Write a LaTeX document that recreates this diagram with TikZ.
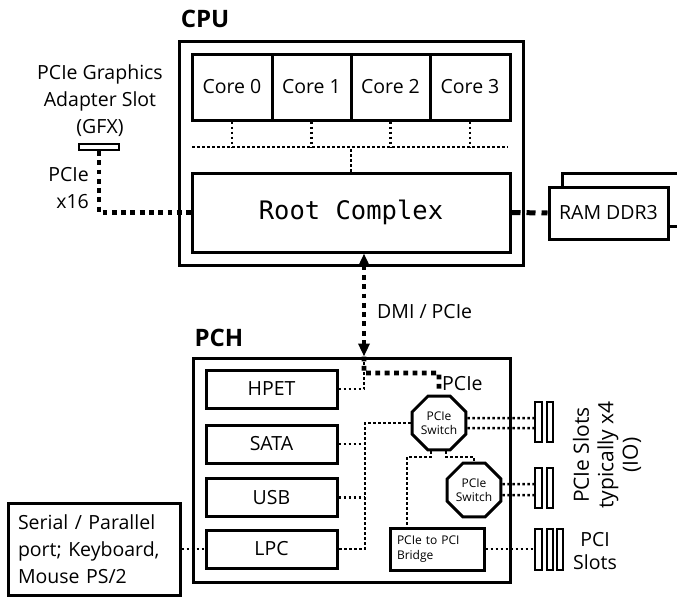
\documentclass[tikz,border=0pt]{standalone}
\usepackage{fontspec}
\setmainfont{Open Sans}
\newfontfamily\rcmono{DejaVu Sans Mono}
\usetikzlibrary{shapes.geometric,arrows.meta,calc}
\begin{document}
\begin{tikzpicture}[x=1pt,y=-1pt,
  blk/.style={draw, line width=3pt, inner sep=0pt, font=\fontsize{19.5}{27}\selectfont},
  slotbox/.style={draw, line width=1.8pt, inner sep=0pt, fill=white},
  octo/.style={draw, line width=3pt, regular polygon, regular polygon sides=8, minimum size=58pt, inner sep=0pt, fill=white, align=center, font=\fontsize{12}{14}\selectfont},
  lbl/.style={inner sep=0pt, font=\fontsize{19.5}{27}\selectfont},
  ttl/.style={inner sep=0pt, font=\fontsize{24}{28}\selectfont\bfseries},
  thindot/.style={line width=2.5pt, dash pattern=on 2.5pt off 2.5pt},
  thickdot/.style={line width=4.8pt, dash pattern=on 4.8pt off 4.5pt},
  ramdash/.style={line width=5pt, dash pattern=on 9pt off 6pt}
]
\useasboundingbox (0,0) rectangle (677,597);

% ---------- CPU ----------
\node[ttl] (cputitle) at (205,19) {CPU};
\node[blk, minimum width=344pt, minimum height=224pt] (cpu) at (351,153) {};
\node[blk, minimum width=80pt, minimum height=66pt] (c0) at (232,87) {Core 0};
\node[blk, minimum width=79pt, minimum height=66pt] (c1) at (311.5,87) {Core 1};
\node[blk, minimum width=79pt, minimum height=66pt] (c2) at (390.5,87) {Core 2};
\node[blk, minimum width=80pt, minimum height=66pt] (c3) at (470,87) {Core 3};
\node[blk, minimum width=318pt, minimum height=79pt, font=\fontsize{25.5}{28}\rcmono] (rc) at (351,212.5) {Root Complex};

\coordinate (busL) at (192,147);
\coordinate (busR) at (508,147);
\draw[thindot] (busL) -- (busR);
\foreach \c in {c0,c1,c2,c3} \draw[thindot] (\c.south) -- (\c.south |- busL);
\draw[thindot] (rc.north) -- (rc.north |- busL);

% ---------- GFX ----------
\node[lbl, align=center] (gfxlbl) at (100,101) {PCIe Graphics\\Adapter Slot\\(GFX)};
\node[slotbox, minimum width=40pt, minimum height=6pt] (gfx) at (99,147) {};
\draw[thickdot] (gfx.south) |- (rc.west);
\node[lbl, align=right, anchor=east] (x16) at (89,188) {PCIe\\x16};

% ---------- RAM ----------
\node[blk, minimum width=122pt, minimum height=53pt] (ramback) at (623,199.5) {};
\node[blk, fill=white, minimum width=119pt, minimum height=52pt] (ram) at (608.5,213) {RAM DDR3};
\draw[ramdash] (rc.east) -- (ram.west);

% ---------- PCH ----------
\node[ttl] (pchtitle) at (219,338) {PCH};
\node[blk, minimum width=317pt, minimum height=224pt] (pch) at (351.5,470) {};
\coordinate (dmix) at (364,0);
\draw[thickdot, {Triangle[width=11pt,length=13pt]}-{Triangle[width=11pt,length=13pt]}] (rc.south -| dmix) -- (pch.north -| dmix);
\node[lbl, anchor=west] (dmilbl) at (377,312) {DMI / PCIe};

\node[blk, minimum width=131pt, minimum height=38pt] (hpet) at (271.5,389) {HPET};
\node[blk, minimum width=131pt, minimum height=38pt] (sata) at (271.5,444) {SATA};
\node[blk, minimum width=131pt, minimum height=38pt] (usb) at (271.5,497.5) {USB};
\node[blk, minimum width=131pt, minimum height=38pt] (lpc) at (271.5,549) {LPC};

\node[octo] (sw1) at (439,423) {PCIe\\Switch};
\node[octo] (sw2) at (474,490) {PCIe\\Switch};
\node[blk, minimum width=94pt, minimum height=42pt, text width=80pt, align=left, font=\fontsize{12}{15}\selectfont] (bridge) at (437,549) {PCIe to PCI\\Bridge};

% HPET up to DMI end, thick PCIe to switch
\draw[thindot] (hpet.east) -| (pch.north -| dmix);
\coordinate (pcieturn) at (439,373);
\draw[thickdot] (pch.north -| dmix) |- (pcieturn) -- ($(sw1.north)+(0,-3)$);
\node[lbl, anchor=west] (pcielbl) at (442,384) {PCIe};

% bus to SATA/USB/LPC
\coordinate (busx) at (365,0);
\draw[thindot] (sw1.west) -| (lpc.east -| busx) -- (lpc.east);
\draw[thindot] (sata.east) -- (sata.east -| busx);
\draw[thindot] (usb.east) -- (usb.east -| busx);

% switch 1 down to bridge and switch 2
\coordinate (j1) at (407,457);
\draw[thindot] ($(sw1.south)+(-8,0)$) |- (j1) -- (j1 |- bridge.north);
\draw[thindot] ($(sw1.south)+(7,0)$) |- (sw2.north |- j1) -- (sw2.north);

% ---------- slots ----------
\node[slotbox, minimum width=7pt, minimum height=40pt] (s1a) at (538.5,422) {};
\node[slotbox, minimum width=6pt, minimum height=40pt] (s1b) at (550,422) {};
\node[slotbox, minimum width=7pt, minimum height=40pt] (s2a) at (538.5,488) {};
\node[slotbox, minimum width=6pt, minimum height=40pt] (s2b) at (550,488) {};
\node[slotbox, minimum width=7pt, minimum height=41pt] (p1) at (538.5,549.5) {};
\node[slotbox, minimum width=6pt, minimum height=41pt] (p2) at (550,549.5) {};
\node[slotbox, minimum width=6pt, minimum height=41pt] (p3) at (560,549.5) {};

\draw[thindot] ($(sw1.east)+(0,-5)$) -- ($(s1a.west)+(0,-4)$);
\draw[thindot] ($(sw1.east)+(0,5)$) -- ($(s1a.west)+(0,6)$);
\draw[thindot] ($(sw2.east)+(0,-6)$) -- ($(s2a.west)+(0,-4)$);
\draw[thindot] ($(sw2.east)+(0,5)$) -- ($(s2a.west)+(0,7)$);
\draw[thindot] (bridge.east) -- (p1.west |- bridge.east);

\node[lbl, rotate=90, align=center, font=\fontsize{21}{24.5}\selectfont] (slotlbl) at (607,455) {PCIe Slots\\typically x4\\(IO)};
\node[lbl, align=center, font=\fontsize{19.5}{23}\selectfont] (pcilbl) at (595,551) {PCI\\Slots};

% ---------- Serial ----------
\node[blk, minimum width=172pt, minimum height=92pt, text width=152pt, align=left, inner xsep=10pt] (serial) at (94,549) {Serial / Parallel\\port; Keyboard,\\Mouse PS/2};
\draw[thindot] (serial.east) -- (lpc.west);
\end{tikzpicture}
\end{document}
